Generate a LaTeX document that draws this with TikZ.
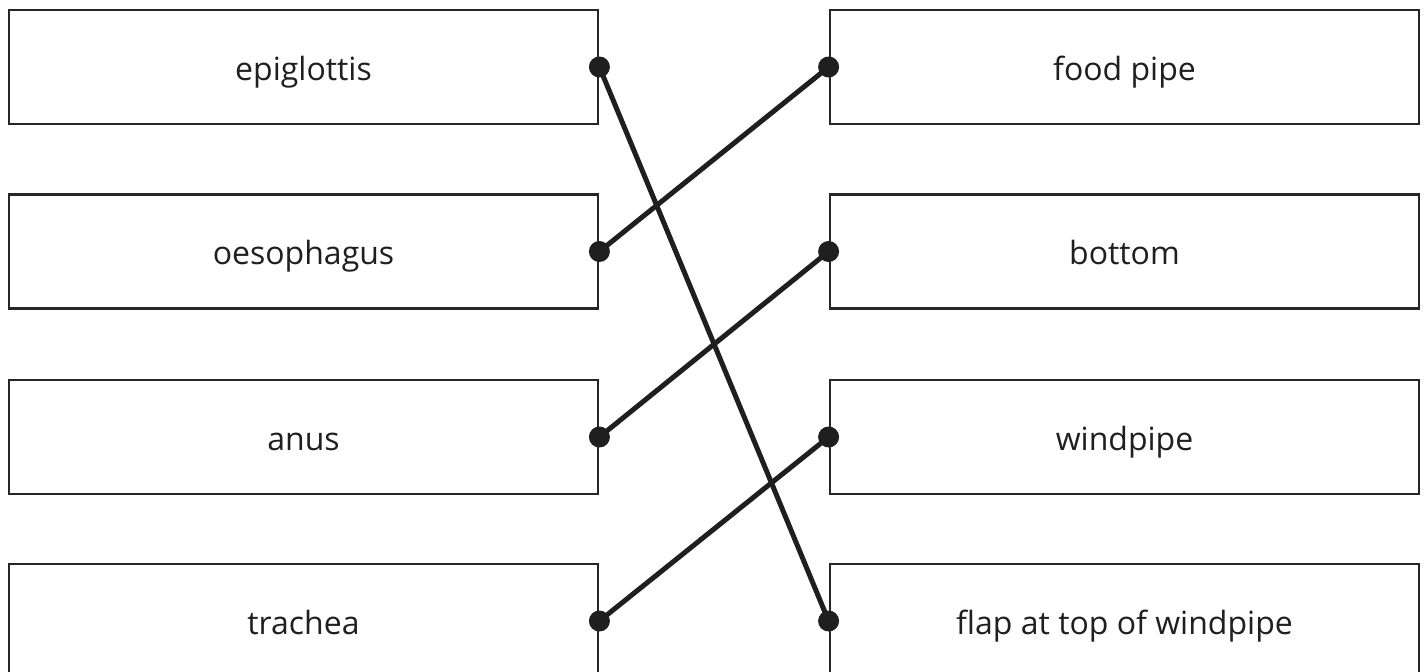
\documentclass[tikz,border=0pt]{standalone}
\usepackage{fontspec}
\setmainfont{Open Sans}
\begin{document}
\begin{tikzpicture}[x=1pt,y=-1pt,
  box/.style={draw=black!85, line width=2.8pt, fill=white, minimum width=589pt, minimum height=114pt, inner sep=0pt, text height=26pt, text depth=0pt, text=black!88, font=\fontsize{32}{36}\selectfont},
  link/.style={draw=black!88, line width=5pt},
  dot/.style={circle, fill=black!88, inner sep=0pt, minimum size=21pt}]
\useasboundingbox (0,0) rectangle (1427,672);
\clip (0,0) rectangle (1427,672);
\node[box] (l1) at (303.5,67) {epiglottis};
\node[box] (l2) at (303.5,251.5) {oesophagus};
\node[box] (l3) at (303.5,437) {anus};
\node[box] (l4) at (303.5,621) {trachea};
\node[box] (r1) at (1124.5,67) {food pipe};
\node[box] (r2) at (1124.5,251.5) {bottom};
\node[box] (r3) at (1124.5,437) {windpipe};
\node[box] (r4) at (1124.5,621) {flap at top of windpipe};
\foreach \i in {1,2,3,4} {
  \coordinate (a\i) at (l\i.east);
  \coordinate (b\i) at (r\i.west);
}
\draw[link] (a1) -- (b4);
\draw[link] (a2) -- (b1);
\draw[link] (a3) -- (b2);
\draw[link] (a4) -- (b3);
\foreach \i in {1,2,3,4} {
  \node[dot] at (a\i) {};
  \node[dot] at (b\i) {};
}
\end{tikzpicture}
\end{document}
